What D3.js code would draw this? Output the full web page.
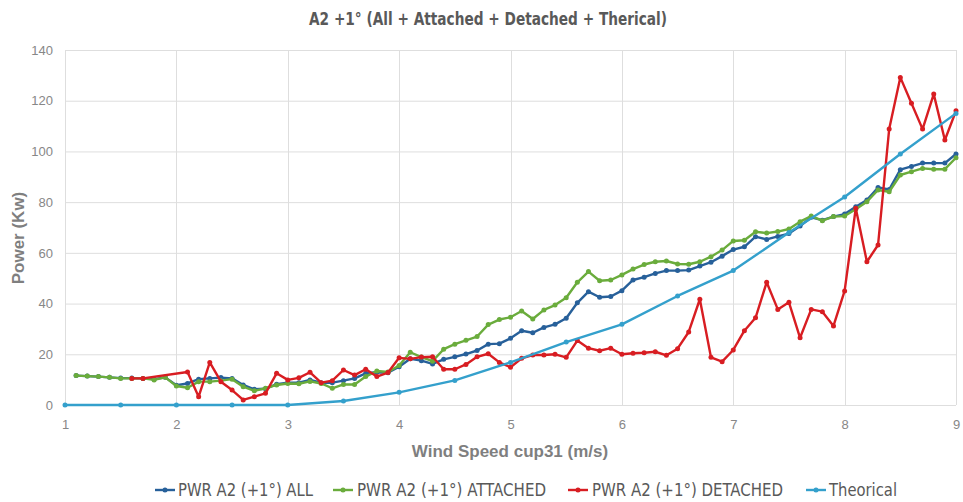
<!DOCTYPE html>
<html>
<head>
<meta charset="utf-8">
<script src="https://cdn.jsdelivr.net/npm/d3@7"></script>
<style>
  html, body { margin: 0; padding: 0; background: #fff; }
  svg { display: block; }
</style>
</head>
<body>
<svg id="chart" width="963" height="502"></svg>
<script>
// ---------- DATA ----------
const chartTitle = "A2 +1° (All + Attached + Detached + Therical)";
const xTitle = "Wind Speed cup31 (m/s)";
const yTitle = "Power (Kw)";
const xTicks = [1, 2, 3, 4, 5, 6, 7, 8, 9];
const yTicks = [0, 20, 40, 60, 80, 100, 120, 140];

const seriesNames = ["PWR A2 (+1°) ALL", "PWR A2 (+1°) ATTACHED", "PWR A2 (+1°) DETACHED", "Theorical"];

// wind speed bins 1.1 .. 9.0 for ALL and ATTACHED
const windBins = [1.1,1.2,1.3,1.4,1.5,1.6,1.7,1.8,1.9,2.0,
  2.1,2.2,2.3,2.4,2.5,2.6,2.7,2.8,2.9,3.0,
  3.1,3.2,3.3,3.4,3.5,3.6,3.7,3.8,3.9,4.0,
  4.1,4.2,4.3,4.4,4.5,4.6,4.7,4.8,4.9,5.0,
  5.1,5.2,5.3,5.4,5.5,5.6,5.7,5.8,5.9,6.0,
  6.1,6.2,6.3,6.4,6.5,6.6,6.7,6.8,6.9,7.0,
  7.1,7.2,7.3,7.4,7.5,7.6,7.7,7.8,7.9,8.0,
  8.1,8.2,8.3,8.4,8.5,8.6,8.7,8.8,8.9,9.0];

const powerAll = [11.6,11.4,11.2,10.9,10.6,10.6,10.5,10.2,10.9,7.8,
  8.5,10.2,10.5,10.8,10.5,7.9,6.2,6.4,8.2,8.8,
  8.8,9.9,8.8,8.8,9.6,10.5,12.5,12.9,12.7,15.1,
  18.2,17.5,16.2,18.0,19.0,20.1,21.5,24.0,24.2,26.3,
  29.3,28.5,30.6,31.8,34.2,40.3,44.7,42.5,42.8,45.1,
  49.3,50.4,51.9,53.0,53.0,53.2,54.8,56.3,58.7,61.3,
  62.4,66.4,65.3,66.5,67.6,70.6,74.0,72.9,74.3,75.3,
  78.2,80.8,85.8,85.0,92.8,94.1,95.4,95.4,95.4,99.0];

const powerAttached = [11.6,11.4,11.2,10.9,10.5,10.5,10.5,9.9,10.9,7.5,
  6.8,9.2,9.2,9.6,10.2,7.2,5.6,6.6,7.9,8.5,
  8.4,9.3,8.5,6.6,8.1,8.1,11.2,13.4,13.0,15.6,
  20.8,18.9,17.3,22.0,24.0,25.5,27.0,31.7,33.7,34.6,
  37.1,33.9,37.5,39.4,42.3,48.4,52.6,49.0,49.3,51.3,
  53.6,55.4,56.5,56.8,55.6,55.5,56.5,58.5,61.1,64.7,
  65.0,68.3,67.8,68.4,69.4,72.3,74.5,72.7,74.3,74.5,
  77.2,80.2,84.8,84.1,90.7,92.0,93.3,93.0,93.0,97.5];

// DETACHED has no bins at 1.8 - 2.0
const windBinsDetached = [1.6,1.7,
  2.1,2.2,2.3,2.4,2.5,2.6,2.7,2.8,2.9,3.0,
  3.1,3.2,3.3,3.4,3.5,3.6,3.7,3.8,3.9,4.0,
  4.1,4.2,4.3,4.4,4.5,4.6,4.7,4.8,4.9,5.0,
  5.1,5.2,5.3,5.4,5.5,5.6,5.7,5.8,5.9,6.0,
  6.1,6.2,6.3,6.4,6.5,6.6,6.7,6.8,6.9,7.0,
  7.1,7.2,7.3,7.4,7.5,7.6,7.7,7.8,7.9,8.0,
  8.1,8.2,8.3,8.4,8.5,8.6,8.7,8.8,8.9,9.0];

const powerDetached = [10.5,10.5,
  13.0,3.3,16.8,9.2,5.9,2.0,3.3,4.6,12.5,9.9,
  10.7,12.9,8.8,9.6,13.8,11.8,14.1,11.2,12.8,18.6,
  18.2,18.9,19.0,14.1,14.1,16.0,19.0,20.2,16.8,14.9,
  18.4,19.7,19.7,20.0,18.8,25.4,22.4,21.4,22.4,20.0,
  20.4,20.6,21.0,19.6,22.2,28.8,41.7,18.8,17.1,21.7,
  29.3,34.4,48.4,37.7,40.5,26.5,37.7,36.8,31.2,45.0,
  77.6,56.5,63.1,108.8,129.2,119.0,108.8,122.6,104.5,116.0];

const windTheory = [1,1.5,2,2.5,3,3.5,4,4.5,5,5.5,6,6.5,7,7.5,8,8.5,9];
const powerTheory = [0,0,0,0,0,1.6,5,9.7,16.8,24.8,31.8,43,53,68,82,99,115];

// ---------- LAYOUT / STYLE ----------
const colors = ["#27609a", "#6aac3c", "#d81d22", "#34a0cc"];
const W = 963, H = 502;
const m = { left: 65, right: 7, top: 50, bottom: 97 };

const svg = d3.select("#chart");
const x = d3.scaleLinear().domain([1, 9]).range([m.left, W - m.right]);
const y = d3.scaleLinear().domain([0, 140]).range([H - m.bottom, m.top]);

const series = [
  { name: seriesNames[0], xs: windBins, ys: powerAll, color: colors[0] },
  { name: seriesNames[1], xs: windBins, ys: powerAttached, color: colors[1] },
  { name: seriesNames[2], xs: windBinsDetached, ys: powerDetached, color: colors[2] },
  { name: seriesNames[3], xs: windTheory, ys: powerTheory, color: colors[3] }
];

// grid
const grid = svg.append("g");
grid.selectAll("line.h").data(yTicks).join("line")
  .attr("x1", x(1)).attr("x2", x(9))
  .attr("y1", d => y(d) + 0.5).attr("y2", d => y(d) + 0.5)
  .attr("stroke", "#dedede").attr("stroke-width", 1);
grid.selectAll("line.v").data(xTicks).join("line")
  .attr("y1", y(0)).attr("y2", y(140))
  .attr("x1", d => Math.round(x(d)) + 0.5).attr("x2", d => Math.round(x(d)) + 0.5)
  .attr("stroke", "#dedede").attr("stroke-width", 1);

// axes tick labels via d3 axes
const axisFont = "'Liberation Sans', Arial, sans-serif";
const xAxis = svg.append("g").attr("transform", `translate(0,${y(0)})`)
  .call(d3.axisBottom(x).tickValues(xTicks).tickSize(0).tickPadding(15).tickFormat(d3.format("d")));
const yAxis = svg.append("g").attr("transform", `translate(${m.left},0)`)
  .call(d3.axisLeft(y).tickValues(yTicks).tickSize(0).tickPadding(12).tickFormat(d3.format("d")));
[xAxis, yAxis].forEach(a => {
  a.select(".domain").remove();
  a.selectAll("text").attr("fill", "#878787").style("font-family", axisFont).style("font-size", "13px");
});

// lines
const line = d3.line().x(d => x(d[0])).y(d => y(d[1]));
series.forEach(s => {
  const pts = s.xs.map((v, i) => [v, s.ys[i]]);
  const g = svg.append("g");
  g.append("path").datum(pts)
    .attr("d", line).attr("fill", "none")
    .attr("stroke", s.color).attr("stroke-width", 2.4)
    .attr("stroke-linejoin", "round");
  g.selectAll("circle").data(pts).join("circle")
    .attr("cx", d => x(d[0])).attr("cy", d => y(d[1]))
    .attr("r", 2.5).attr("fill", s.color);
});

// title
const narrow = "'Liberation Sans Narrow', 'DejaVu Sans Condensed', 'Roboto Condensed', sans-serif";
svg.append("text").text(chartTitle)
  .attr("x", 488).attr("y", 25).attr("text-anchor", "middle")
  .attr("textLength", 358).attr("lengthAdjust", "spacingAndGlyphs")
  .style("font-family", narrow).style("font-weight", "bold").style("font-size", "17px")
  .attr("fill", "#595959");

// axis titles
svg.append("text").text(xTitle)
  .attr("x", 510).attr("y", 457).attr("text-anchor", "middle")
  .style("font-family", axisFont).style("font-weight", "bold").style("font-size", "17px")
  .attr("fill", "#7f7f7f");
svg.append("text").text(yTitle)
  .attr("transform", `translate(24,${238}) rotate(-90)`).attr("text-anchor", "middle")
  .style("font-family", axisFont).style("font-weight", "bold").style("font-size", "17px")
  .attr("fill", "#7f7f7f");

// legend
const legendPos = [ {mx: 155, tx: 178, tw: 135}, {mx: 333, tx: 357, tw: 189}, {mx: 568, tx: 592, tw: 191}, {mx: 806, tx: 829, tw: 68} ];
const lg = svg.append("g");
series.forEach((s, i) => {
  const p = legendPos[i];
  const ly = 490;
  lg.append("line").attr("x1", p.mx).attr("x2", p.mx + 20).attr("y1", ly).attr("y2", ly)
    .attr("stroke", s.color).attr("stroke-width", 2.4);
  lg.append("circle").attr("cx", p.mx + 10).attr("cy", ly).attr("r", 2.5).attr("fill", s.color);
  lg.append("text").text(s.name).attr("x", p.tx).attr("y", ly + 6)
    .attr("textLength", p.tw).attr("lengthAdjust", "spacingAndGlyphs")
    .style("font-family", narrow).style("font-size", "18px").attr("fill", "#595959");
});
</script>
</body>
</html>
